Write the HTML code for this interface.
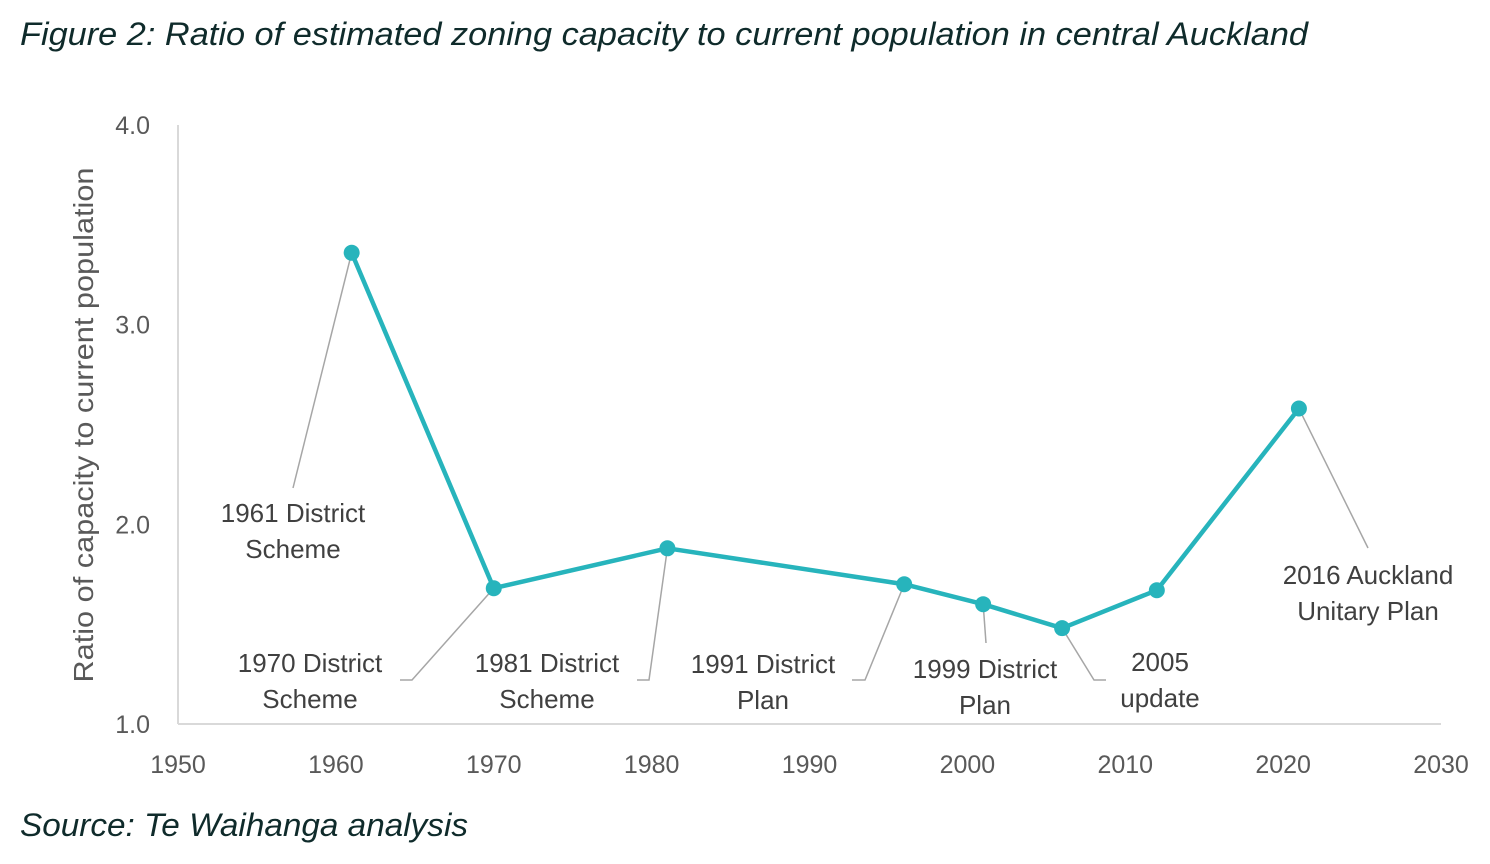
<!DOCTYPE html>
<html><head><meta charset="utf-8"><style>
body{margin:0;background:#fff;}
svg{display:block;font-family:"Liberation Sans",sans-serif;}
</style></head><body>
<svg width="1490" height="864" viewBox="0 0 1490 864">
<text x="20" y="45" font-size="32" font-style="italic" fill="#0f2b2b" textLength="1288" lengthAdjust="spacingAndGlyphs">Figure 2: Ratio of estimated zoning capacity to current population in central Auckland</text>
<text x="20" y="836" font-size="32" font-style="italic" fill="#0f2b2b" textLength="448" lengthAdjust="spacingAndGlyphs">Source: Te Waihanga analysis</text>
<text transform="translate(93,425) rotate(-90)" text-anchor="middle" font-size="28" fill="#595959" textLength="515" lengthAdjust="spacingAndGlyphs">Ratio of capacity to current population</text>
<g id="axes"></g>
<g id="leaders"></g>
<g id="series"></g>
<g id="labels"></g>
</svg>
<script>
const years=[1961,1970,1981,1996,2001,2006,2012,2021];
const ratios=[3.36,1.68,1.88,1.70,1.60,1.48,1.67,2.58];
const planNames=[["1961 District","Scheme"],["1970 District","Scheme"],["1981 District","Scheme"],["1991 District","Plan"],["1999 District","Plan"],["2005","update"],["2016 Auckland","Unitary Plan"]];
const xTicks=[1950,1960,1970,1980,1990,2000,2010,2020,2030];
const yTicks=[1.0,2.0,3.0,4.0];
const NS="http://www.w3.org/2000/svg";
const X=v=>178+(v-1950)*(1441-178)/80;
const Y=v=>724-(v-1)*(724-125)/3;
function mk(tag,attrs,parent,text){const e=document.createElementNS(NS,tag);for(const k in attrs)e.setAttribute(k,attrs[k]);if(text!==undefined)e.textContent=text;parent.appendChild(e);return e;}
const axes=document.getElementById('axes');
let l=mk('line',{x1:178,y1:125,x2:178,y2:724,stroke:'#d9d9d9','stroke-width':2},axes);


l=mk('line',{x1:178,y1:724,x2:1441,y2:724,stroke:'#d9d9d9','stroke-width':2},axes);


xTicks.forEach(t=>{const e=mk('text',{x:X(t),y:773,'text-anchor':'middle','font-size':25,fill:'#595959'},axes,String(t));

});
yTicks.forEach(t=>{const e=mk('text',{x:150,y:Y(t)+9,'text-anchor':'end','font-size':25,fill:'#595959'},axes,t.toFixed(1));

});
const labelPos=[[293,513],[310,663],[547,663],[763,664],[985,669],[1160,662],[1368,575]];
const leaderEnd=[[[293,488]],[[412,680],[400,680]],[[649,680],[637,680]],[[865,680],[852,680]],[[986,643]],[[1094,680],[1106,680]],[[1368,548]]];
const ptIdx=[0,1,2,3,4,5,7];
const leaders=document.getElementById('leaders'),labels=document.getElementById('labels');
ptIdx.forEach((pi,i)=>{
 const pts=[[X(years[pi]),Y(ratios[pi])]].concat(leaderEnd[i]);
 const p=mk('polyline',{points:pts.map(a=>a.join(',')).join(' '),fill:'none',stroke:'#a6a6a6','stroke-width':1.5},leaders);
 
 
 planNames[i].forEach((s,j)=>{const t=mk('text',{x:labelPos[i][0],y:labelPos[i][1]+9+j*36,'text-anchor':'middle','font-size':26,fill:'#404040'},labels,s);
 
 });
});
const series=document.getElementById('series');
const line=mk('polyline',{points:years.map((y,i)=>X(y)+','+Y(ratios[i])).join(' '),fill:'none',stroke:'#27b4bc','stroke-width':4.5,'stroke-linejoin':'round'},series);


years.forEach((y,i)=>{const c=mk('circle',{cx:X(y),cy:Y(ratios[i]),r:8,fill:'#27b4bc'},series);

});
</script>
</body></html>
